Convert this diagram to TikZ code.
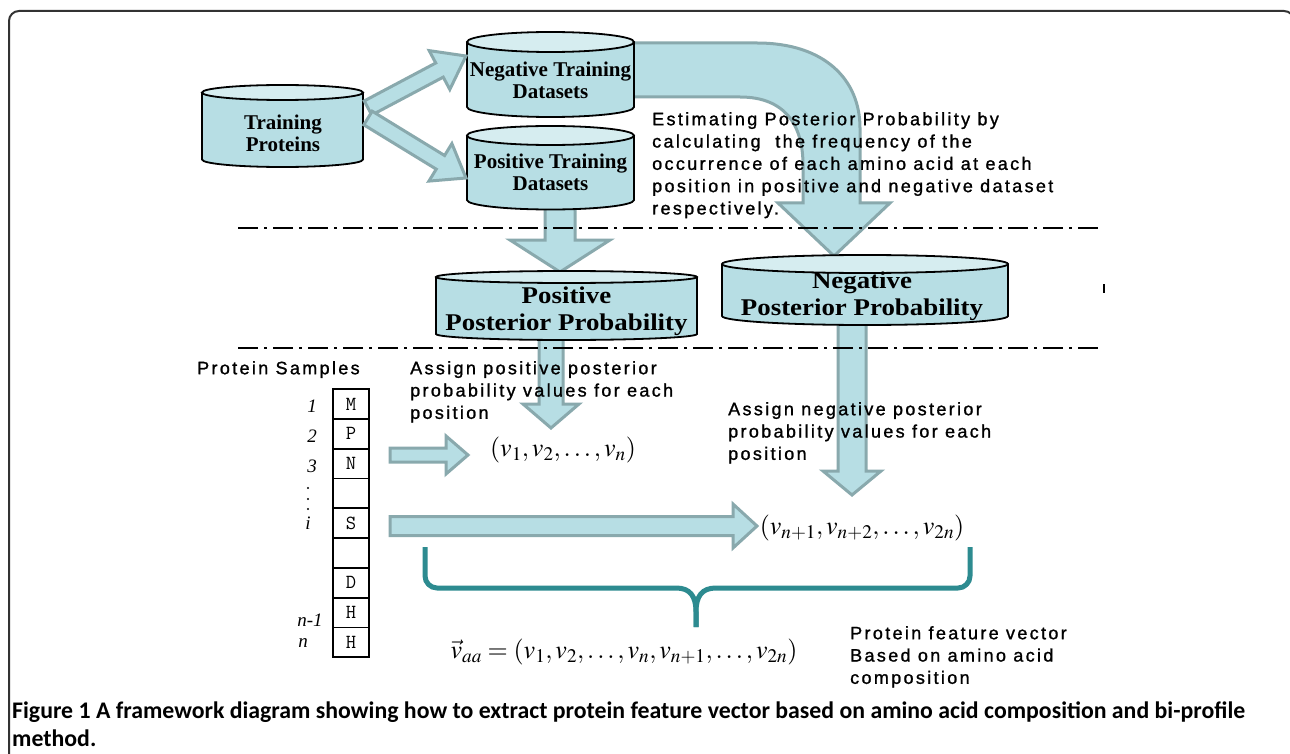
\documentclass[tikz,border=0pt]{standalone}
\usepackage{mathptmx}
\usepackage{fontspec}
\setmainfont{Liberation Serif}
\newfontfamily\arial{Liberation Sans}[LetterSpace=13,FakeBold=1.2]
\newfontfamily\cylbig{Liberation Serif}[FakeStretch=1.12]
\newfontfamily\capfont{Carlito}
\usetikzlibrary{calc}
\definecolor{cylc}{RGB}{183,222,228}
\definecolor{cyltop}{RGB}{214,237,240}
\definecolor{arrfill}{RGB}{183,222,228}
\definecolor{arrline}{RGB}{137,169,173}
\definecolor{bracec}{RGB}{45,139,144}
\newcommand\drawcyl[2]{%
  \filldraw[fill=cylc, cylline] let \p1=(#1.north west), \p2=(#1.south east), \n1={(\x2-\x1)/2} in
    (\x1,\y1) -- (\x1,\y2) arc[start angle=180,end angle=360,x radius=\n1,y radius=#2pt] -- (\x2,\y1);
  \filldraw[fill=cyltop, cylline] let \p1=(#1.north), \p2=(#1.north east), \n1={\x2-\x1} in
    (\p1) ellipse[x radius=\n1, y radius=#2pt];
}
\newcommand\barrow[5]{%
  \coordinate (ba) at (#1); \coordinate (bb) at (#2);
  \coordinate (bh) at ($(bb)!#5!(ba)$);
  \filldraw[arr] ($(ba)!#3!90:(bb)$) -- ($(bh)!#3!90:(bb)$) -- ($(bh)!#4!90:(bb)$) -- (bb)
     -- ($(bh)!#4!-90:(bb)$) -- ($(bh)!#3!-90:(bb)$) -- ($(ba)!#3!-90:(bb)$) -- cycle;
}
\begin{document}
\begin{tikzpicture}[x=1pt,y=1pt,
  cylline/.style={draw=black, line width=1.8pt},
  cylnode/.style={inner sep=0pt, outer sep=0pt, draw=none},
  arr/.style={fill=arrfill, draw=arrline, line width=3pt, line join=miter},
  sep/.style={line width=2pt, dash pattern=on 20pt off 6pt on 3pt off 6pt},
  brace/.style={draw=bracec, line width=5pt, line join=round},
  cyltxt/.style={font=\bfseries\fontsize{21}{22}\selectfont, align=center, inner sep=0pt},
  bigtxt/.style={font=\cylbig\bfseries\fontsize{24}{27}\selectfont, align=center, inner sep=0pt},
  ann/.style={font=\arial\fontsize{18}{22.3}\selectfont, anchor=north west, inner sep=0pt, align=left},
  mth/.style={font=\fontsize{26}{30}\selectfont, inner sep=0pt},
  seqbox/.style={draw, line width=1.8pt, minimum width=36pt, minimum height=29.8pt, inner sep=0pt, font=\ttfamily\fontsize{20}{20}\selectfont},
  lab/.style={font=\itshape\fontsize{19}{19}\selectfont, inner sep=0pt}
]
\useasboundingbox (0,0) rectangle (1290,-754);
\fill[white] (0,0) rectangle (1290,-754);
% frame
\draw[line width=2pt, black!80, rounded corners=10pt] (9,-800) -- (9,-11) -- (1294,-11) -- (1294,-800);

% cylinder placeholders
\node[cylnode, minimum width=161pt, minimum height=67pt] (tp) at (282.5,-126) {};
\node[cylnode, minimum width=167pt, minimum height=65pt] (ntd) at (550.5,-74.5) {};
\node[cylnode, minimum width=167pt, minimum height=64.5pt] (ptd) at (550.5,-167.75) {};
\node[cylnode, minimum width=261pt, minimum height=57pt] (ppp) at (566.5,-305.5) {};
\node[cylnode, minimum width=286pt, minimum height=52pt] (npp) at (865,-290) {};

% arrow end points
\coordinate (a1s) at (368,-108); \coordinate (a1e) at (466,-56);
\coordinate (a2s) at (368,-118); \coordinate (a2e) at (466,-178);
\coordinate (a3s) at (560,-205); \coordinate (a3e) at (560,-272);
\coordinate (a4s) at (551,-330); \coordinate (a4e) at (551,-428);
\coordinate (a5s) at (852,-316); \coordinate (a5e) at (852,-495);
\coordinate (a6s) at (390,-455); \coordinate (a6e) at (468,-455);
\coordinate (a7s) at (390,-526); \coordinate (a7e) at (757,-526);

% big curved arrow
\filldraw[arr] (600,-43) -- (757,-43) .. controls (825,-43) and (860,-80) .. (860,-128) -- (860,-203)
  -- (890,-203) -- (834,-256) -- (778,-203) -- (803,-203) -- (803,-165)
  .. controls (803,-125) and (785,-97) .. (740,-97) -- (600,-97) -- cycle;

\barrow{a3s}{a3e}{15pt}{50pt}{32pt}
\barrow{a4s}{a4e}{12pt}{28pt}{24pt}
\barrow{a5s}{a5e}{14pt}{29pt}{24pt}

% cylinders
\drawcyl{tp}{7.5}
\drawcyl{ntd}{10}
\drawcyl{ptd}{9.5}
\drawcyl{ppp}{6}
\drawcyl{npp}{9}

\barrow{a1s}{a1e}{8pt}{22pt}{30pt}
\barrow{a2s}{a2e}{8pt}{22pt}{30pt}
\barrow{a6s}{a6e}{7pt}{19pt}{22pt}
\barrow{a7s}{a7e}{9.5pt}{22pt}{24pt}

% cylinder texts
\node[cyltxt] (tpt) at (283,-133.5) {Training\\Proteins};
\node[cyltxt] (ntdt) at (550.5,-80.5) {Negative Training\\Datasets};
\node[cyltxt] (ptdt) at (550.5,-172) {Positive Training\\Datasets};
\node[bigtxt] (pppt) at (566.5,-311) {Positive\\Posterior Probability};
\node[bigtxt] (nppt) at (862,-296.5) {Negative\\Posterior Probability};

% separators
\coordinate (l1a) at (238,-228); \coordinate (l1b) at (1103,-228);
\coordinate (l2a) at (238,-348); \coordinate (l2b) at (1103,-348);
\draw[sep] (l1a) -- (l1b);
\draw[sep] (l2a) -- (l2b);
\coordinate (tk1) at (1104,-284); \coordinate (tk2) at (1104,-293);
\draw[line width=2pt] (tk1) -- (tk2);

% annotations
\node[ann] (est) at (652,-112) {Estimating Posterior Probability by\\calculating\ \ the frequency of the\\occurrence of each amino acid at each\\position in positive and negative dataset\\respectively.};
\node[ann] (ps) at (197,-361) {Protein Samples};
\node[ann] (asp) at (410,-361) {Assign positive posterior\\probability values for each\\position};
\node[ann] (asn) at (728,-402) {Assign negative posterior\\probability values for each\\position};
\node[ann] (pfv) at (850,-626) {Protein feature vector\\Based on amino acid\\composition};

% sequence
\foreach \t [count=\i] in {M,P,N,{},S,{},D,H,H}
  \node[seqbox] (s\i) at (351,{-389-29.8*(\i-0.5)}) {\t};
\node[lab] (l1) at (312,-406) {1};
\node[lab] (l2) at (312,-436) {2};
\node[lab] (l3) at (312,-466) {3};
\foreach \yy [count=\j] in {488,499,509} \fill (308,-\yy) circle[radius=1.2pt];
\node[lab] (li) at (308,-523) {i};
\node[lab] (ln1) at (310,-620) {n-1};
\node[lab] (ln) at (303,-643) {n};

% math
\node[mth] (m1) at (563,-450) {$(v_1, v_2, \ldots, v_n)$};
\node[mth] (m2) at (862,-528) {$(v_{n+1}, v_{n+2}, \ldots, v_{2n})$};
\node[mth] (m3) at (624,-652) {$\vec{v}_{aa}=(v_1, v_2, \ldots, v_n, v_{n+1}, \ldots, v_{2n})$};

% brace
\coordinate (bl) at (425,-547); \coordinate (br) at (970,-547); \coordinate (bm) at (696,-627);
\draw[brace] (bl) -- (425,-576) arc[start angle=180, end angle=270, radius=12pt] -- (676,-588)
   .. controls (690,-588) and (696,-596) .. (696,-612) -- (bm);
\draw[brace] (br) -- (970,-576) arc[start angle=0, end angle=-90, radius=12pt] -- (716,-588)
   .. controls (702,-588) and (696,-596) .. (696,-612) -- (bm);

% caption
\node[anchor=base west, inner sep=0pt, font=\capfont\bfseries\fontsize{23.8}{28}\selectfont] (cap1) at (12,-718) {Figure 1 A framework diagram showing how to extract protein feature vector based on amino acid composition and bi-profile};
\node[anchor=base west, inner sep=0pt, font=\capfont\bfseries\fontsize{23.8}{28}\selectfont] (cap2) at (12,-746) {method.};
\end{tikzpicture}
\end{document}
